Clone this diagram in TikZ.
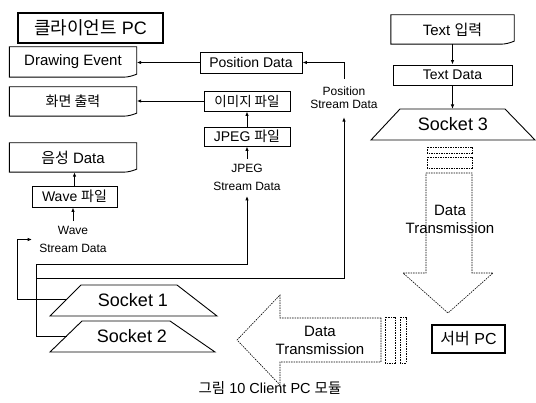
\documentclass[tikz,border=0pt]{standalone}
\usepackage{fontspec}
\setmainfont{Liberation Sans}
\newfontfamily\kr{Noto Sans CJK KR}
\usetikzlibrary{arrows.meta}
\tikzset{
  conn/.style={line width=0.9pt, -{Latex[length=4.5pt,width=3.5pt]}},
  wire/.style={line width=0.9pt},
  plainbox/.style={draw, line width=0.9pt, inner sep=0pt, font=\fontsize{14}{16}\selectfont},
  thickbox/.style={draw, line width=1.9pt, inner sep=0pt},
  docnode/.style={inner sep=0pt, minimum width=127pt, font=\fontsize{15}{17}\selectfont},
  stream/.style={align=center, inner xsep=2pt, inner ysep=5pt, font=\fontsize{12}{18}\selectfont},
  trans/.style={dash pattern=on 1.5pt off 1pt, line width=0.6pt},
  transtext/.style={align=center, inner sep=0pt, font=\fontsize{15}{18}\selectfont},
  socktext/.style={inner sep=0pt, font=\fontsize{18}{20}\selectfont},
  sock/.style={line width=0.9pt},
}
\newcommand\docoutline[1]{%
  \draw[wire] (#1.north west) -- (#1.north east) -- ([yshift=3pt]#1.south east)
    .. controls ([xshift=-4pt,yshift=1.5pt]#1.south east) and ([xshift=-8pt]#1.south east) .. ([xshift=-14pt]#1.south east)
    -- (#1.south west) -- cycle;}
\begin{document}
\begin{tikzpicture}[x=1pt,y=-1pt]
\useasboundingbox (0,0) rectangle (536,403);

% title boxes
\node[thickbox, minimum width=145pt, minimum height=30pt, font=\fontsize{18}{20}\selectfont] (cpc) at (90.5,28) {{\kr 클라이언트} PC};
\node[thickbox, minimum width=73pt, minimum height=28pt, font=\fontsize{16}{18}\selectfont] (srv) at (468.5,339) {{\kr 서버} PC};

% document boxes
\node[docnode, minimum height=30pt] (de) at (73,62) {Drawing Event};
\docoutline{de}
\node[docnode, minimum height=29pt, font=\fontsize{14}{16}\selectfont] (hm) at (73,101.5) {\kr 화면 출력};
\docoutline{hm}
\node[docnode, minimum height=29pt] (us) at (73,157.5) {{\kr 음성} Data};
\docoutline{us}
\node[docnode, minimum width=123pt, minimum height=29pt] (ti) at (452.5,29.5) {Text {\kr 입력}};
\docoutline{ti}

% plain boxes
\node[plainbox, minimum width=102pt, minimum height=21pt] (pd) at (251,62.5) {Position Data};
\node[plainbox, minimum width=86pt, minimum height=20pt, font=\fontsize{13.5}{16}\selectfont] (img) at (247,101) {\kr 이미지 파일};
\node[plainbox, minimum width=86pt, minimum height=19pt] (jpg) at (247,136.5) {JPEG {\kr 파일}};
\node[plainbox, minimum width=85pt, minimum height=21pt] (wav) at (74.5,196.5) {Wave {\kr 파일}};
\node[plainbox, minimum width=119pt, minimum height=20pt] (td) at (452.5,75) {Text Data};

% stream labels
\node[stream, font=\fontsize{12}{13}\selectfont, inner ysep=8pt] (pl) at (344,98) {Position\\Stream Data};
\node[stream] (jl) at (247,177.5) {JPEG\\Stream Data};
\node[stream, inner xsep=7pt] (wl) at (73,239.5) {Wave\\Stream Data};

% sockets
\draw[sock] (81,285) -- (177,285) -- (217,316) -- (50,316) -- cycle;
\node[socktext] (s1) at (133,300.5) {Socket 1};
\coordinate (s1w) at (67,299);
\draw[sock] (82,321) -- (170,321) -- (215,352) -- (50,352) -- cycle;
\node[socktext] (s2) at (132,336.5) {Socket 2};
\coordinate (s2w) at (66.5,336);
\draw[sock] (400,109) -- (505,109) -- (535,140) -- (371,140) -- cycle;
\node[socktext] (s3) at (453,124.5) {Socket 3};
\coordinate (s3t) at (452.5,109);

% connectors
\draw[conn] (pd.west) -- (pd.west -| de.east);
\draw[conn] (img.west) -- (img.west -| hm.east);
\draw[conn] (jpg.north) -- (img.south);
\draw[conn] (jl.north) -- (jpg.south);
\draw[conn] (pl.north) |- (pd.east);
\draw[conn] (wav.north) -- (wav.north |- us.south);
\draw[conn] (wl.north) -- (wl.north |- wav.south);
\draw[conn] (ti.south) -- (td.north);
\draw[conn] (td.south) -- (s3t);
\coordinate (w1) at (17,299);
\draw[conn] (s1w) -- (w1) |- (wl.west);
\coordinate (j1) at (36,264);
\coordinate (p1) at (36,278);
\draw[conn] (s2w) -| (j1) -| (jl.south);
\draw[conn] (p1) -| (pl.south);

% transmission arrows
\draw[trans] (427,147) rectangle (472,153);
\draw[trans] (427,157) rectangle (472,168);
\draw[trans] (426,173) -- (472,173) -- (472,273) -- (493,273) -- (448,313) -- (403,273) -- (426,273) -- cycle;
\node[transtext] (dt1) at (450,219.5) {Data\\Transmission};
\draw[trans] (400,317) rectangle (406,363);
\draw[trans] (385,317) rectangle (395,363);
\draw[trans] (381,318) -- (280,318) -- (280,295) -- (237,340) -- (280,385) -- (280,362) -- (381,362) -- cycle;
\node[transtext] (dt2) at (320,340) {Data\\Transmission};

% caption
\node[inner sep=0pt, font=\fontsize{14.5}{16}\selectfont] (cap) at (270,388) {{\kr 그림} 10 Client PC {\kr 모듈}};
\end{tikzpicture}
\end{document}
